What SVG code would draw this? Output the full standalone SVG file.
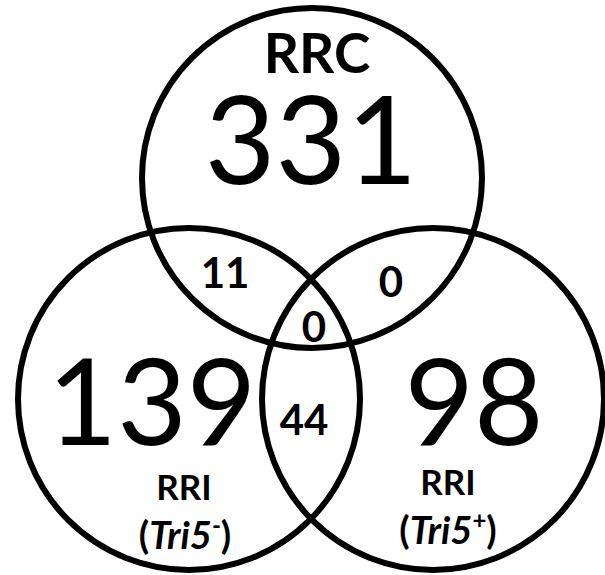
<svg xmlns="http://www.w3.org/2000/svg" width="605" height="575" viewBox="0 0 605 575">
<style>
.c{fill:none;stroke:#000;stroke-width:6}
text{font-family:Lato,"Open Sans","Liberation Sans",sans-serif;fill:#000;text-anchor:middle}
.big{font-size:120px;font-weight:400}
.sm{font-size:42px;font-weight:700}
.lab{font-size:35px;font-weight:700}
.tri{font-size:38px;font-weight:700}
.it{font-style:italic}
</style>
<rect width="605" height="575" fill="#fff"/>
<g id="connectors"></g>
<g id="rrc">
<circle class="c" cx="312" cy="178" r="170"/>
<text x="317" y="73" style="font-size:55px;font-weight:700">RRC</text>
<text class="big" x="311" y="184" style="font-size:122px">331</text>
</g>
<g id="rri-minus">
<circle class="c" cx="189" cy="399" r="171"/>
<text class="big" x="152" y="445">139</text>
<text class="lab" x="184" y="500">RRI</text>
<text class="tri" x="185" y="549">(<tspan class="it">Tri5</tspan><tspan font-size="24" dy="-15">-</tspan><tspan dy="15">)</tspan></text>
</g>
<g id="rri-plus">
<circle class="c" cx="433" cy="399" r="171"/>
<text class="big" x="474" y="445">98</text>
<text class="lab" x="448" y="495">RRI</text>
<text class="tri" x="448" y="544">(<tspan class="it">Tri5</tspan><tspan font-size="24" dy="-15">+</tspan><tspan dy="15">)</tspan></text>
</g>
<g id="overlaps">
<text class="sm" x="225" y="288">11</text>
<text class="sm" x="391" y="297">0</text>
<text class="sm" x="314" y="342">0</text>
<text class="sm" x="304" y="435">44</text>
</g>
</svg>
